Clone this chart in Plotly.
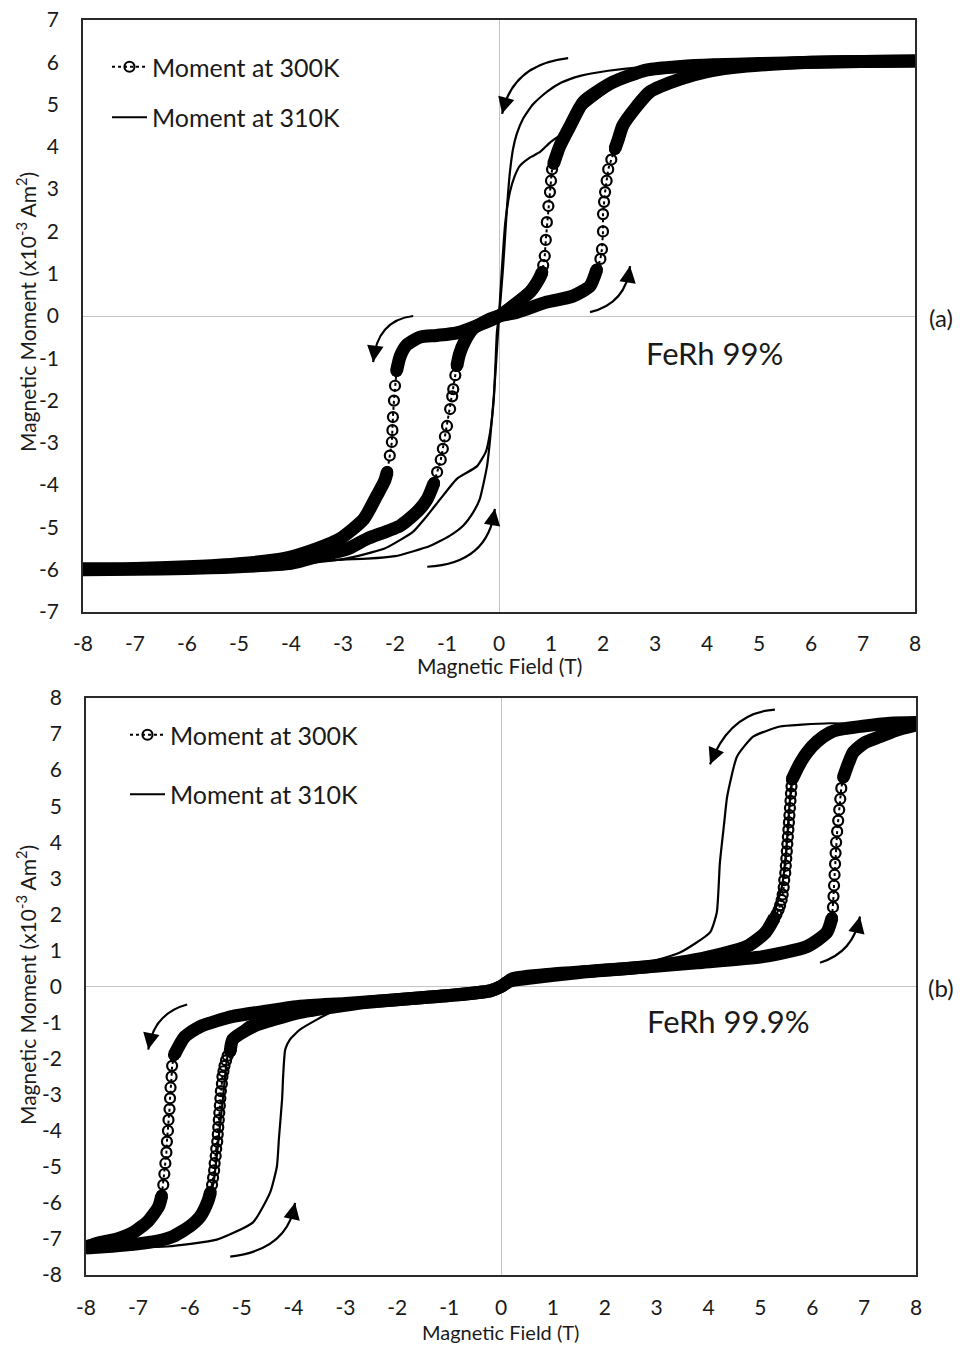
import plotly.graph_objects as go

W, H = 963, 1353          # browser window
OFF = 8                   # default page margin around the plot div
FW, FH = W - 2 * OFF, H - 2 * OFF

# ---------------- tick labels ----------------
x_ticks = list(range(-8, 9))
x_ticktext = [str(v) for v in x_ticks]
y_ticks_a = list(range(-7, 8))
y_ticktext_a = [str(v) for v in y_ticks_a]
y_ticks_b = list(range(-8, 9))
y_ticktext_b = [str(v) for v in y_ticks_b]

# ---------------- panel (a): FeRh 99% ----------------
# 300 K, field decreasing (+8 -> -8): dense band / sparse circle segments
a300_desc_band1_x = [8, 7, 6, 5, 4.12, 3.5, 2.85, 2.19, 1.62, 1.37, 1.17, 1.05]
a300_desc_band1_y = [6.03, 6.02, 6.0, 5.97, 5.94, 5.9, 5.82, 5.53, 5.06, 4.5, 4.02, 3.6]
a300_desc_col1_x = [1.05, 1.02, 1.0, 0.98, 0.95, 0.92, 0.9, 0.88, 0.85, 0.83]
a300_desc_col1_y = [3.6, 3.47, 3.2, 2.93, 2.6, 2.22, 1.8, 1.42, 1.2, 1.04]
a300_desc_band2_x = [0.83, 0.78, 0.6, 0.27, 0, -0.4, -0.81, -1.2, -1.52, -1.77, -1.9, -1.97]
a300_desc_band2_y = [1.04, 0.9, 0.57, 0.24, 0, -0.22, -0.4, -0.46, -0.5, -0.68, -0.95, -1.3]
a300_desc_col2_x = [-1.97, -2.0, -2.02, -2.04, -2.05, -2.06, -2.1, -2.15]
a300_desc_col2_y = [-1.3, -1.65, -2.0, -2.39, -2.7, -2.98, -3.3, -3.69]
a300_desc_band3_x = [-2.15, -2.2, -2.35, -2.6, -3.06, -3.5, -4.15, -5, -5.75, -7, -8]
a300_desc_band3_y = [-3.69, -3.9, -4.25, -4.8, -5.27, -5.5, -5.74, -5.86, -5.92, -5.97, -5.98]

# 300 K, field increasing (-8 -> +8)
a300_asc_band1_x = [-8, -7, -6, -5, -4, -3.44, -2.9, -2.54, -1.9, -1.55, -1.38, -1.25]
a300_asc_band1_y = [-6.0, -5.99, -5.97, -5.93, -5.85, -5.67, -5.5, -5.27, -4.96, -4.6, -4.33, -3.95]
a300_asc_col1_x = [-1.25, -1.19, -1.12, -1.08, -1.04, -1.0, -0.94, -0.9, -0.88, -0.84, -0.81]
a300_asc_col1_y = [-3.95, -3.69, -3.4, -3.14, -2.85, -2.6, -2.2, -1.9, -1.73, -1.4, -1.18]
a300_asc_band2_x = [-0.81, -0.76, -0.66, -0.5, -0.17, 0, 0.35, 0.92, 1.42, 1.75, 1.88]
a300_asc_band2_y = [-1.18, -0.9, -0.6, -0.3, -0.07, 0, 0.09, 0.33, 0.47, 0.71, 1.1]
a300_asc_col2_x = [1.88, 1.95, 1.98, 2.0, 2.0, 2.02, 2.04, 2.07, 2.1, 2.16, 2.23]
a300_asc_col2_y = [1.1, 1.35, 1.58, 2.0, 2.41, 2.7, 2.93, 3.2, 3.47, 3.7, 3.95]
a300_asc_band3_x = [2.23, 2.3, 2.38, 2.65, 2.9, 3.48, 4.0, 4.77, 6.04, 7, 8]
a300_asc_band3_y = [3.95, 4.2, 4.5, 4.96, 5.3, 5.6, 5.78, 5.91, 6.0, 6.02, 6.03]

# 310 K (thin line)
a310_desc_x = [8, 6, 4, 3.2, 2.7, 2.1, 1.56, 1.2, 0.92, 0.65, 0.46, 0.34, 0.27, 0.21, 0.15,
               0.08, 0.03, 0, -0.04, -0.07, -0.1, -0.17, -0.25, -0.42, -0.81, -1.13, -1.4,
               -1.65, -2.2, -3, -4, -6, -8]
a310_desc_y = [6.03, 6.0, 5.94, 5.9, 5.88, 5.8, 5.68, 5.52, 5.3, 5.0, 4.66, 4.3, 3.95, 3.4, 2.5,
               1.18, 0.4, 0, -0.38, -1.2, -1.96, -2.74, -3.2, -3.55, -3.85, -4.33, -4.75,
               -5.1, -5.5, -5.75, -5.88, -5.97, -5.98]
a310_asc_x = [-8, -6, -4.5, -3.83, -3, -2.54, -2.0, -1.33, -0.95, -0.69, -0.5, -0.37, -0.23,
              -0.17, -0.1, -0.05, 0, 0.05, 0.12, 0.21, 0.3, 0.4, 0.6, 0.79, 0.98, 1.2, 1.37,
              1.6, 1.88, 2.3, 3, 4, 6, 8]
a310_asc_y = [-5.98, -5.97, -5.9, -5.82, -5.76, -5.74, -5.68, -5.44, -5.2, -4.96, -4.65, -4.33,
              -3.55, -2.9, -1.9, -1.0, 0, 1.0, 2.2, 2.93, 3.3, 3.55, 3.75, 3.88, 4.1, 4.3, 4.5,
              4.85, 5.13, 5.5, 5.8, 5.92, 6.0, 6.03]

# ---------------- panel (b): FeRh 99.9% ----------------
b300_desc_band1_x = [8, 7.5, 6.98, 6.5, 6.34, 6.1, 5.9, 5.75, 5.61]
b300_desc_band1_y = [7.32, 7.3, 7.22, 7.12, 7.04, 6.8, 6.49, 6.15, 5.74]
b300_desc_col1_x = [5.61, 5.6, 5.59, 5.58, 5.57, 5.56, 5.55, 5.54, 5.53, 5.52, 5.51, 5.5, 5.49,
                    5.48, 5.46, 5.45, 5.43, 5.41, 5.38, 5.35, 5.31, 5.27]
b300_desc_col1_y = [5.74, 5.55, 5.35, 5.15, 4.95, 4.75, 4.55, 4.35, 4.15, 3.95, 3.75, 3.55, 3.35,
                    3.15, 2.95, 2.75, 2.55, 2.4, 2.25, 2.12, 2.0, 1.9]
b300_desc_band2_x = [5.27, 5.1, 4.74, 3.78, 2.81, 1.52, 0.5, 0.17, 0, -0.21, -1.0, -1.95, -3.0,
                     -3.87, -4.5, -5.17, -5.8, -6.1, -6.3]
b300_desc_band2_y = [1.9, 1.5, 1.11, 0.75, 0.55, 0.39, 0.22, 0.15, 0.0, -0.12, -0.25, -0.36,
                     -0.47, -0.55, -0.68, -0.83, -1.11, -1.4, -1.9]
b300_desc_col2_x = [-6.3, -6.34, -6.35, -6.37, -6.38, -6.39, -6.41, -6.42, -6.44, -6.45, -6.47,
                    -6.49, -6.51, -6.54]
b300_desc_col2_y = [-1.9, -2.2, -2.5, -2.8, -3.1, -3.4, -3.7, -4.0, -4.3, -4.6, -4.9, -5.2, -5.5, -5.8]
b300_desc_band3_x = [-6.54, -6.6, -6.8, -7.09, -7.4, -7.73, -8]
b300_desc_band3_y = [-5.8, -6.1, -6.5, -6.82, -7.0, -7.1, -7.22]

b300_asc_band1_x = [-8, -7.5, -7.09, -6.6, -6.32, -6.0, -5.8, -5.65, -5.6]
b300_asc_band1_y = [-7.25, -7.2, -7.15, -7.05, -6.93, -6.65, -6.38, -5.95, -5.7]
b300_asc_col1_x = [-5.6, -5.57, -5.55, -5.53, -5.52, -5.5, -5.49, -5.47, -5.46, -5.45, -5.44,
                   -5.43, -5.42, -5.41, -5.4, -5.38, -5.37, -5.35, -5.33, -5.3, -5.27, -5.22]
b300_asc_col1_y = [-5.7, -5.5, -5.3, -5.1, -4.9, -4.7, -4.5, -4.3, -4.1, -3.9, -3.7, -3.5, -3.3,
                   -3.1, -2.9, -2.7, -2.5, -2.35, -2.2, -2.05, -1.92, -1.8]
b300_asc_band2_x = [-5.22, -5.17, -4.78, -3.87, -2.58, -1.0, -0.21, 0, 0.23, 1.0, 2.16, 3.78,
                    5.05, 5.9, 6.28, 6.38]
b300_asc_band2_y = [-1.8, -1.47, -1.11, -0.72, -0.44, -0.25, -0.12, 0, 0.22, 0.35, 0.47, 0.66,
                    0.83, 1.11, 1.5, 1.9]
b300_asc_col2_x = [6.38, 6.4, 6.41, 6.42, 6.43, 6.44, 6.45, 6.46, 6.48, 6.5, 6.52, 6.54, 6.56, 6.6]
b300_asc_col2_y = [1.9, 2.2, 2.5, 2.8, 3.1, 3.4, 3.7, 4.0, 4.3, 4.6, 4.9, 5.2, 5.5, 5.8]
b300_asc_band3_x = [6.6, 6.7, 6.79, 7.0, 7.31, 7.6, 8]
b300_asc_band3_y = [5.8, 6.2, 6.49, 6.75, 6.93, 7.1, 7.25]

b310_desc_x = [8, 7, 6.34, 5.8, 5.38, 4.86, 4.55, 4.36, 4.3, 4.22, 4.16, 4.03, 3.45, 2.81, 1.5,
               0.2, 0, -0.2, -1.5, -3, -4.2, -4.9, -5.17, -5.28, -5.36, -5.45, -5.55, -5.8,
               -6.3, -7, -8]
b310_desc_y = [7.3, 7.28, 7.3, 7.26, 7.21, 6.93, 6.38, 5.27, 4.5, 3.44, 2.05, 1.5, 0.94, 0.66,
               0.42, 0.2, 0, -0.15, -0.3, -0.5, -0.75, -1.0, -1.4, -2.0, -3.1, -4.3, -5.5, -6.4,
               -6.9, -7.15, -7.24]
b310_asc_x = [-8, -6.44, -5.48, -4.78, -4.45, -4.32, -4.28, -4.22, -4.2, -4.16, -4.07, -3.87,
              -3.24, -2.6, -1.5, -0.2, 0, 0.2, 1.5, 3, 4.2, 4.9, 5.2, 5.3, 5.42, 5.5, 5.56,
              5.62, 5.85, 6.3, 7, 8]
b310_asc_y = [-7.24, -7.21, -7.02, -6.54, -5.71, -4.99, -4.2, -3.13, -2.5, -1.75, -1.47, -1.19,
              -0.69, -0.5, -0.35, -0.15, 0, 0.2, 0.4, 0.6, 0.8, 1.1, 1.6, 2.2, 2.8, 3.8, 5.0,
              5.8, 6.5, 7.0, 7.22, 7.3]

# curved arrows: start (x, y), control (x, y), tip (x, y)
arrows_a = [
    (1.33, 6.1, 0.25, 5.95, 0.06, 4.78),
    (1.75, 0.09, 2.45, 0.3, 2.52, 1.18),
    (-1.65, 0.0, -2.35, -0.1, -2.42, -1.09),
    (-1.38, -5.93, -0.2, -5.85, -0.08, -4.56),
]
arrows_b = [
    (5.28, 7.68, 4.4, 7.6, 4.03, 6.16),
    (6.15, 0.66, 6.8, 0.95, 6.92, 1.94),
    (-6.05, -0.5, -6.7, -0.75, -6.8, -1.75),
    (-5.22, -7.49, -4.1, -7.3, -3.97, -6.0),
]

FONT = "Lato, 'Open Sans', sans-serif"
INK = "#1a1a1a"

fig = go.Figure()


def band(x, y, xa, ya):
    fig.add_trace(go.Scatter(
        x=x, y=y, xaxis=xa, yaxis=ya, mode="lines+markers",
        line=dict(color="black", width=13, shape="spline", smoothing=0.6),
        marker=dict(color="black", size=12, symbol="circle"),
        showlegend=False, hoverinfo="skip"))


def column(x, y, xa, ya, legend=None, group=None):
    fig.add_trace(go.Scatter(
        x=x, y=y, xaxis=xa, yaxis=ya, mode="lines+markers",
        line=dict(color="black", width=2, dash="dot"),
        marker=dict(color="black", size=10, symbol="circle-open", line=dict(width=2.2, color="black")),
        name="Moment at 300K", showlegend=legend is not None,
        legend=legend if legend else "legend", legendgroup=group, hoverinfo="skip"))


def thin(x, y, xa, ya, legend=None, group=None):
    fig.add_trace(go.Scatter(
        x=x, y=y, xaxis=xa, yaxis=ya, mode="lines",
        line=dict(color="black", width=2.2, shape="spline", smoothing=0.5),
        name="Moment at 310K", showlegend=legend is not None,
        legend=legend if legend else "legend", legendgroup=group, hoverinfo="skip"))


# panel (a)
for bx, by in [(a300_desc_band1_x, a300_desc_band1_y), (a300_desc_band2_x, a300_desc_band2_y),
               (a300_desc_band3_x, a300_desc_band3_y), (a300_asc_band1_x, a300_asc_band1_y),
               (a300_asc_band2_x, a300_asc_band2_y), (a300_asc_band3_x, a300_asc_band3_y)]:
    band(bx, by, "x", "y")
column(a300_desc_col1_x, a300_desc_col1_y, "x", "y", legend="legend", group="a300")
column(a300_desc_col2_x, a300_desc_col2_y, "x", "y", group="a300")
column(a300_asc_col1_x, a300_asc_col1_y, "x", "y", group="a300")
column(a300_asc_col2_x, a300_asc_col2_y, "x", "y", group="a300")
thin(a310_desc_x, a310_desc_y, "x", "y", legend="legend", group="a310")
thin(a310_asc_x, a310_asc_y, "x", "y", group="a310")

# panel (b)
for bx, by in [(b300_desc_band1_x, b300_desc_band1_y), (b300_desc_band2_x, b300_desc_band2_y),
               (b300_desc_band3_x, b300_desc_band3_y), (b300_asc_band1_x, b300_asc_band1_y),
               (b300_asc_band2_x, b300_asc_band2_y), (b300_asc_band3_x, b300_asc_band3_y)]:
    band(bx, by, "x2", "y2")
column(b300_desc_col1_x, b300_desc_col1_y, "x2", "y2", legend="legend2", group="b300")
column(b300_desc_col2_x, b300_desc_col2_y, "x2", "y2", group="b300")
column(b300_asc_col1_x, b300_asc_col1_y, "x2", "y2", group="b300")
column(b300_asc_col2_x, b300_asc_col2_y, "x2", "y2", group="b300")
thin(b310_desc_x, b310_desc_y, "x2", "y2", legend="legend2", group="b310")
thin(b310_asc_x, b310_asc_y, "x2", "y2", group="b310")


def px(x, y):
    """window pixel -> paper fraction"""
    return (x - OFF) / FW, 1 - (y - OFF) / FH


def xdom(a, b):
    return [px(a, 0)[0], px(b, 0)[0]]


def ydom(top, bottom):
    return [px(0, bottom)[1], px(0, top)[1]]


shapes = []
annotations = []


def add_arrows(arrows, xr, yr):
    for (x0, y0, cx, cy, x1, y1) in arrows:
        shapes.append(dict(type="path", xref=xr, yref=yr,
                           path=f"M {x0},{y0} Q {cx},{cy} {x1},{y1}",
                           line=dict(color="black", width=2.2)))
        t = 0.9
        tx = (1 - t) ** 2 * x0 + 2 * (1 - t) * t * cx + t ** 2 * x1
        ty = (1 - t) ** 2 * y0 + 2 * (1 - t) * t * cy + t ** 2 * y1
        annotations.append(dict(x=x1, y=y1, ax=tx, ay=ty, xref=xr, yref=yr, axref=xr, ayref=yr,
                                text="", showarrow=True, arrowhead=2, arrowsize=1.5,
                                arrowwidth=2.2, arrowcolor="black", standoff=0))


add_arrows(arrows_a, "x", "y")
add_arrows(arrows_b, "x2", "y2")


def label(text, x, y, size, xref="paper", yref="paper", angle=0):
    if xref == "paper":
        x, y = px(x, y)
    annotations.append(dict(x=x, y=y, xref=xref, yref=yref, text=text, showarrow=False,
                            xanchor="center", yanchor="middle", textangle=angle,
                            font=dict(family=FONT, size=size, color=INK)))


# texts
label("FeRh 99%", 4.15, -0.87, 31, "x", "y")
label("FeRh 99.9%", 4.38, -0.97, 31, "x2", "y2")
label("(a)", 941, 317, 24)
label("(b)", 941, 987, 24)
label("Magnetic Field (T)", 499, 665, 21)
label("Magnetic Field (T)", 501, 1332, 20)
label("Magnetic Moment (x10<sup>-3</sup> Am<sup>2</sup>)", 26, 312, 21, angle=-90)
label("Magnetic Moment (x10<sup>-3</sup> Am<sup>2</sup>)", 26, 985, 21, angle=-90)

axis_common = dict(showgrid=False, zeroline=True, zerolinecolor="#c4c4c4", zerolinewidth=1.2,
                   showline=True, mirror=True, linecolor="#2a2a2a", linewidth=1.6, ticks="",
                   tickfont=dict(family=FONT, size=21, color=INK), fixedrange=True,
                   automargin=False, ticklabeloverflow="allow")

fig.update_layout(
    width=FW, height=FH, margin=dict(l=0, r=0, t=0, b=0, autoexpand=False),
    paper_bgcolor="white", plot_bgcolor="white",
    xaxis=dict(domain=xdom(83, 915), range=[-8, 8], tickvals=x_ticks, ticktext=x_ticktext,
               anchor="y", ticklabelstandoff=12, **axis_common),
    yaxis=dict(domain=ydom(20, 612), range=[-7, 7], tickvals=y_ticks_a,
               ticktext=y_ticktext_a, anchor="x", ticklabelstandoff=18, **axis_common),
    xaxis2=dict(domain=xdom(86, 916), range=[-8, 8], tickvals=x_ticks, ticktext=x_ticktext,
                anchor="y2", ticklabelstandoff=13, **axis_common),
    yaxis2=dict(domain=ydom(698, 1275), range=[-8, 8], tickvals=y_ticks_b,
                ticktext=y_ticktext_b, anchor="x2", ticklabelstandoff=18, **axis_common),
    legend=dict(x=px(107, 0)[0], y=px(0, 44)[1], xanchor="left", yanchor="top", traceorder="grouped",
                tracegroupgap=15, itemwidth=35, bgcolor="rgba(0,0,0,0)",
                font=dict(family=FONT, size=25, color=INK)),
    legend2=dict(x=px(125, 0)[0], y=px(0, 712)[1], xanchor="left", yanchor="top", traceorder="grouped",
                 tracegroupgap=24, itemwidth=35, bgcolor="rgba(0,0,0,0)",
                 font=dict(family=FONT, size=25, color=INK)),
    shapes=shapes, annotations=annotations,
)

fig.write_html("out.html")
